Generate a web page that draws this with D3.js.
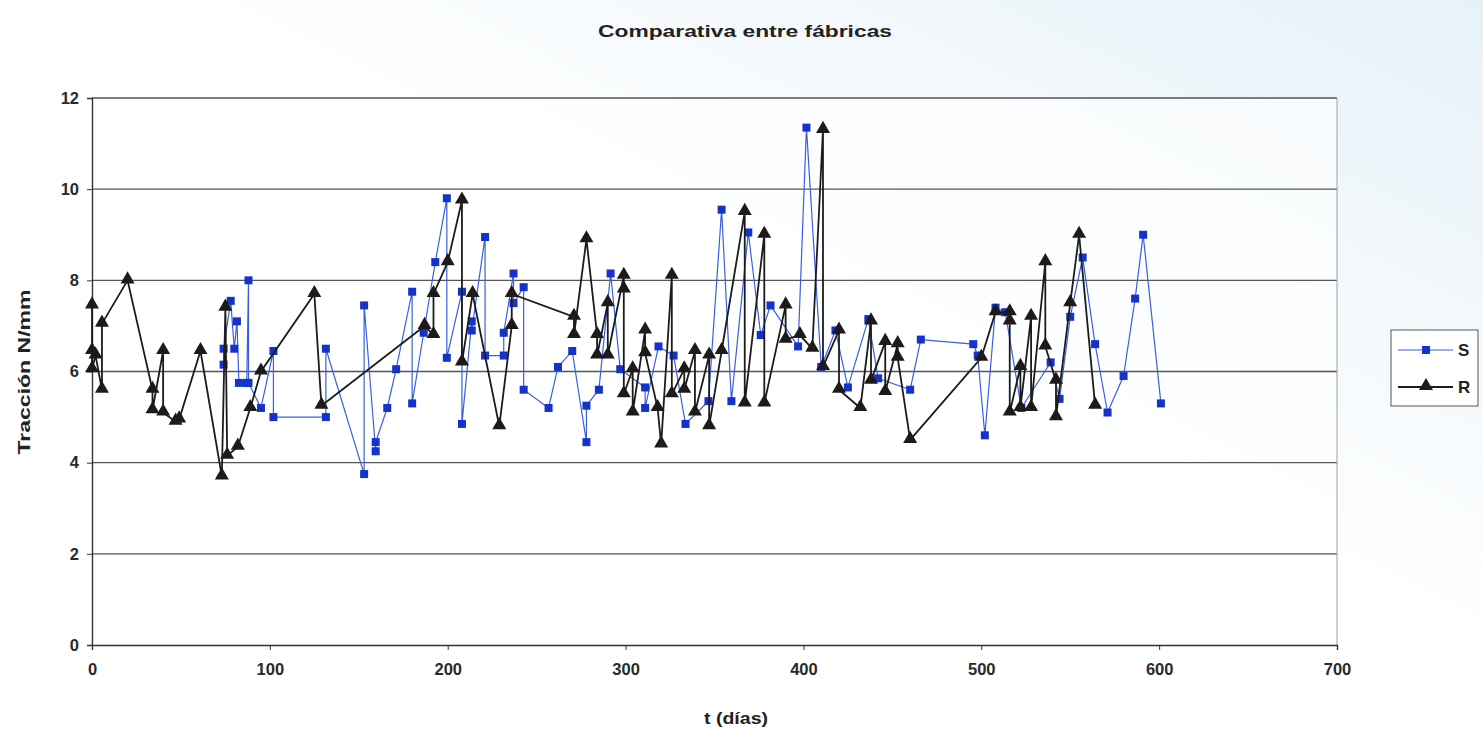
<!DOCTYPE html>
<html>
<head>
<meta charset="utf-8">
<script src="https://cdn.jsdelivr.net/npm/d3@7"></script>
<style>
  body { margin: 0; background: #fff; }
  svg { display: block; font-family: "Liberation Sans", Arial, sans-serif; }
</style>
</head>
<body>
<svg width="1483" height="730"></svg>
<script>
// values (t in days, traction in N/mm)
const sDias = [74, 74, 78, 80, 81.5, 82.6, 87, 88, 88, 95, 102, 102, 131.5, 131.5, 153, 153, 159.5, 159.5, 166, 171,
  180, 180, 186.5, 193, 199.5, 199.5, 208, 208, 213.5, 213.5, 221, 221, 231.5, 231.5, 237, 237, 242.7, 242.7, 256.7, 262,
  270, 278, 278, 285, 291.6, 297, 311, 311, 318.5, 327, 333.7, 346.6, 354, 359.5, 369, 376, 381.5, 397, 401.7, 410,
  418, 425, 436.5, 442, 460, 466, 495.5, 498, 502, 508, 513.5, 522.5, 539, 544, 550, 557, 564, 571, 580, 586.5, 591, 601];
const sTraccion = [6.15, 6.5, 7.55, 6.5, 7.1, 5.75, 5.75, 8.0, 5.75, 5.2, 6.45, 5.0, 5.0, 6.5, 3.75, 7.45, 4.25, 4.45, 5.2, 6.05,
  7.75, 5.3, 6.85, 8.4, 9.8, 6.3, 7.75, 4.85, 7.1, 6.9, 8.95, 6.35, 6.35, 6.85, 8.15, 7.5, 7.85, 5.6, 5.2, 6.1,
  6.45, 4.45, 5.25, 5.6, 8.15, 6.05, 5.65, 5.2, 6.55, 6.35, 4.85, 5.35, 9.55, 5.35, 9.05, 6.8, 7.45, 6.55, 11.35, 6.1,
  6.9, 5.65, 7.15, 5.85, 5.6, 6.7, 6.6, 6.35, 4.6, 7.4, 7.3, 5.2, 6.2, 5.4, 7.2, 8.5, 6.6, 5.1, 5.9, 7.6, 9.0, 5.3];

const rDias = [0, 0, 0, 2, 5.6, 5.6, 20, 34, 34, 40, 40, 47, 49, 61, 73, 75, 76, 82, 89, 95,
  125, 129, 187, 192, 192, 200, 208, 208, 214, 229, 236, 236, 271, 271, 278, 284, 284, 290, 290, 299,
  299, 299, 304, 304, 311, 311, 318, 320, 326, 326, 333, 333, 339, 339, 347, 347, 354, 367, 367, 378,
  378, 390, 390, 398, 405, 411, 411, 420, 420, 432, 438, 438, 446, 446, 453, 453, 460, 500, 508, 516,
  516, 516, 522, 522, 528, 528, 536, 536, 542, 542, 550, 555, 564];
const rTraccion = [7.45, 6.45, 6.05, 6.35, 5.6, 7.05, 8.0, 5.6, 5.15, 6.45, 5.1, 4.9, 4.95, 6.45, 3.7, 7.4, 4.15, 4.35, 5.2, 6.0,
  7.7, 5.25, 7.0, 6.8, 7.7, 8.4, 9.75, 6.2, 7.7, 4.8, 7.0, 7.7, 7.2, 6.8, 8.9, 6.8, 6.35, 7.5, 6.35, 8.1,
  7.8, 5.5, 6.05, 5.1, 6.9, 6.4, 5.2, 4.4, 8.1, 5.5, 6.05, 5.6, 6.45, 5.1, 6.35, 4.8, 6.45, 9.5, 5.3, 9.0,
  5.3, 7.45, 6.7, 6.8, 6.5, 11.3, 6.1, 6.9, 5.6, 5.2, 7.1, 5.8, 6.65, 5.55, 6.6, 6.3, 4.5, 6.3, 7.3, 7.3,
  7.1, 5.1, 6.1, 5.2, 7.2, 5.2, 8.4, 6.55, 5.8, 5.0, 7.5, 9.0, 5.25];

const xTicks = [0, 100, 200, 300, 400, 500, 600, 700];
const yTicks = [0, 2, 4, 6, 8, 10, 12];

const series = [
  {name: "S", x: sDias, y: sTraccion, line: "#3a5fe0", mark: "#1533c8", lw: 1.2},
  {name: "R", x: rDias, y: rTraccion, line: "#1c1c1c", mark: "#1e1a1a", lw: 1.8}
];

const svg = d3.select("svg");
const margin = {top: 98, right: 146, bottom: 85, left: 92};
const W = 1483, H = 730;
const x = d3.scaleLinear().domain([0, 700]).range([margin.left, W - margin.right]);
const y = d3.scaleLinear().domain([0, 12]).range([H - margin.bottom, margin.top]);

// faint scan tint
const defs = svg.append("defs");
const grad = defs.append("linearGradient").attr("id", "bg").attr("x1", "0").attr("y1", "1").attr("x2", "1").attr("y2", "0");
grad.append("stop").attr("offset", "0.55").attr("stop-color", "#ffffff");
grad.append("stop").attr("offset", "1").attr("stop-color", "#e6f1f8");
svg.append("rect").attr("width", W).attr("height", H).attr("fill", "url(#bg)");
svg.append("rect").attr("x", margin.left).attr("y", margin.top)
  .attr("width", x(700) - x(0)).attr("height", y(0) - y(12)).attr("fill", "#fff").attr("fill-opacity", 0.6);

// gridlines
svg.append("g").selectAll("line").data(yTicks.filter(d => d > 0)).join("line")
  .attr("x1", x(0)).attr("x2", x(700)).attr("y1", d => y(d)).attr("y2", d => y(d))
  .attr("stroke", "#555").attr("stroke-width", 1.4);
svg.append("line").attr("x1", x(700)).attr("x2", x(700)).attr("y1", y(0)).attr("y2", y(12))
  .attr("stroke", "#a0a0a0").attr("stroke-width", 1);

// axes
const yAxis = svg.append("g").attr("transform", `translate(${x(0)},0)`)
  .call(d3.axisLeft(y).tickValues(yTicks).tickSize(5).tickPadding(8));
const xAxis = svg.append("g").attr("transform", `translate(0,${y(0)})`)
  .call(d3.axisBottom(x).tickValues(xTicks).tickSize(5).tickPadding(13));
[xAxis, yAxis].forEach(g => {
  g.select(".domain").attr("stroke", "#333").attr("stroke-width", 1.4);
  g.selectAll(".tick line").attr("stroke", "#333");
  g.selectAll("text").attr("font-size", 16.5).attr("font-weight", "bold").attr("fill", "#2a2a2a")
    .style("font-family", "'Liberation Sans', Arial, sans-serif");
});

// series
const line = d3.line().x(d => x(d[0])).y(d => y(d[1]));
const tri = d3.symbol().type(d3.symbolTriangle).size(85);
series.forEach(s => {
  const pts = s.x.map((t, i) => [t, s.y[i]]);
  svg.append("path").datum(pts).attr("d", line).attr("fill", "none")
    .attr("stroke", s.line).attr("stroke-width", s.lw);
  const g = svg.append("g");
  if (s.name === "S") {
    g.selectAll("rect").data(pts).join("rect")
      .attr("x", d => x(d[0]) - 4).attr("y", d => y(d[1]) - 4)
      .attr("width", 8).attr("height", 8).attr("fill", s.mark);
  } else {
    g.selectAll("path").data(pts).join("path")
      .attr("d", tri).attr("transform", d => `translate(${x(d[0])},${y(d[1]) - 1})`)
      .attr("fill", s.mark);
  }
});

// titles (stretched like the wide Excel lettering of the scan)
svg.append("text").attr("x", 745).attr("y", 37).attr("text-anchor", "middle")
  .attr("font-size", 17).attr("font-weight", "bold").attr("fill", "#222")
  .attr("textLength", 294).attr("lengthAdjust", "spacingAndGlyphs")
  .text("Comparativa entre fábricas");
svg.append("text").attr("x", 736).attr("y", 724).attr("text-anchor", "middle")
  .attr("font-size", 17).attr("font-weight", "bold").attr("fill", "#222")
  .attr("textLength", 64).attr("lengthAdjust", "spacingAndGlyphs")
  .text("t (días)");
svg.append("text").attr("transform", "translate(30,372) rotate(-90)").attr("text-anchor", "middle")
  .attr("font-size", 17).attr("font-weight", "bold").attr("fill", "#222")
  .attr("textLength", 165).attr("lengthAdjust", "spacingAndGlyphs")
  .text("Tracción N/mm");

// legend
const lg = svg.append("g").attr("transform", "translate(1391,330)");
lg.append("rect").attr("width", 87).attr("height", 76).attr("fill", "#fff")
  .attr("stroke", "#555").attr("stroke-width", 1);
series.forEach((s, i) => {
  const ly = 20 + i * 37;
  lg.append("line").attr("x1", 7).attr("x2", 62).attr("y1", ly).attr("y2", ly)
    .attr("stroke", s.line).attr("stroke-width", s.lw);
  if (s.name === "S") {
    lg.append("rect").attr("x", 31).attr("y", ly - 4).attr("width", 8).attr("height", 8).attr("fill", s.mark);
  } else {
    lg.append("path").attr("d", tri).attr("transform", `translate(35,${ly - 1})`).attr("fill", s.mark);
  }
  lg.append("text").attr("x", 67).attr("y", ly + 6).attr("font-size", 17).attr("font-weight", "bold")
    .attr("fill", "#222").text(s.name);
});
</script>
</body>
</html>
